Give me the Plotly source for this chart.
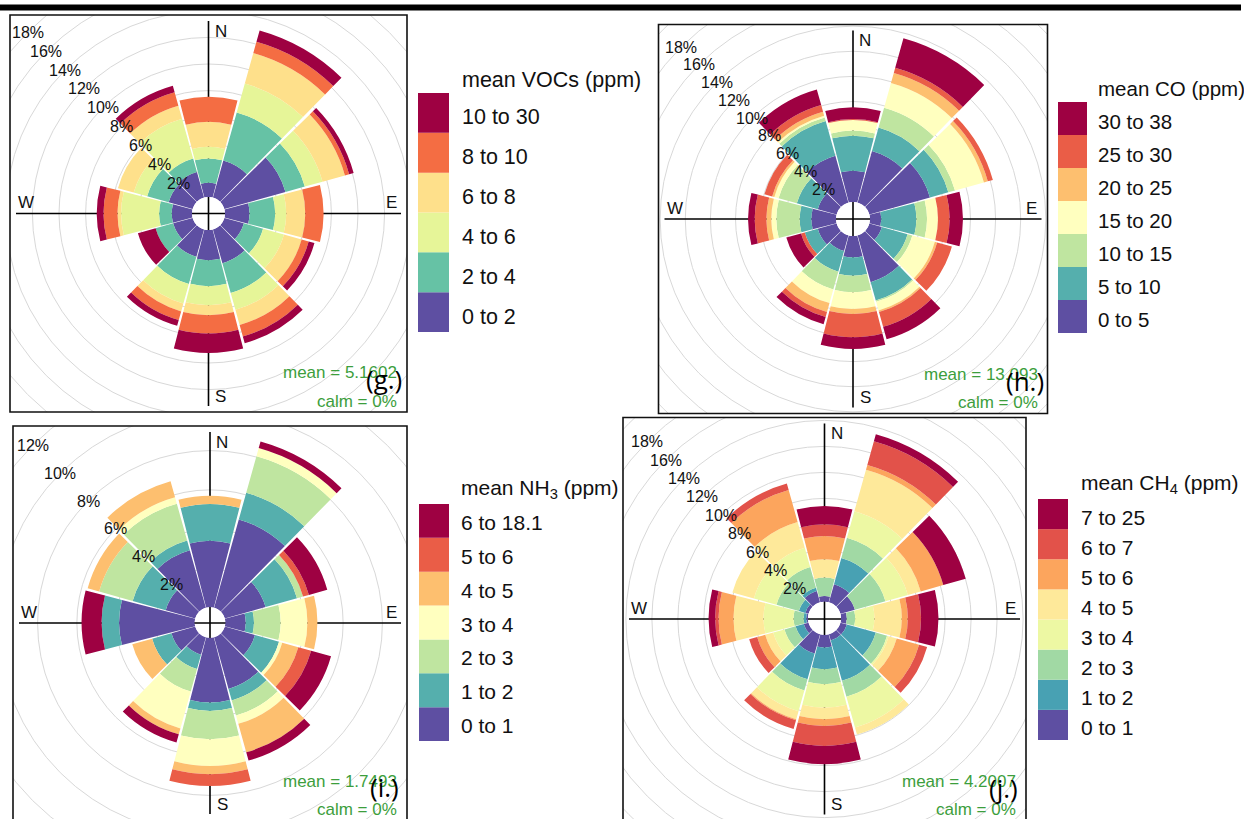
import numpy as np
import plotly.graph_objects as go

W, H = 1244, 819
FONT = "Liberation Sans, Arial, sans-serif"

# ---------------- data (percentage frequency per direction sector) ----------------
DIRS = [0, 30, 60, 90, 120, 150, 180, 210, 240, 270, 300, 330]
RING_STEP = 2  # % between grid rings

# (g.) VOCs
voc_bins = ["0 to 2", "2 to 4", "4 to 6", "6 to 8", "8 to 10", "10 to 30"]
voc_0_2 = [1.07, 2.89, 4.77, 1.84, 1.52, 2.64, 2.27, 2.14, 1.52, 1.52, 1.87, 1.99]
voc_2_4 = [1.82, 3.76, 1.51, 1.93, 1.50, 2.33, 1.95, 2.13, 1.37, 0.95, 1.68, 1.06]
voc_4_6 = [0.88, 2.26, 1.38, 0.83, 1.63, 1.31, 1.43, 1.51, 0.00, 2.86, 1.05, 3.10]
voc_6_8 = [1.88, 2.38, 1.75, 1.43, 1.38, 1.18, 0.75, 0.62, 0.00, 0.27, 1.23, 1.03]
voc_8_10 = [1.88, 0.88, 0.33, 1.38, 0.55, 0.90, 1.38, 0.68, 0.00, 1.05, 0.00, 1.05]
voc_10_30 = [0.00, 0.88, 0.35, 0.00, 0.45, 0.52, 1.46, 0.45, 1.38, 0.51, 0.00, 0.50]

# (h.) CO
co_bins = ["0 to 5", "5 to 10", "10 to 15", "15 to 20", "20 to 25", "25 to 30", "30 to 38"]
co_0_5 = [2.49, 4.27, 5.01, 0.90, 1.03, 3.87, 1.70, 1.30, 1.56, 1.96, 1.56, 3.87]
co_5_10 = [2.79, 1.94, 1.52, 2.79, 2.13, 1.51, 1.46, 1.70, 1.07, 0.93, 1.73, 2.87]
co_10_15 = [0.40, 1.64, 0.55, 0.85, 0.39, 0.11, 1.32, 1.48, 0.00, 1.86, 1.51, 0.29]
co_15_20 = [0.85, 2.04, 2.39, 0.87, 1.86, 0.72, 1.33, 1.12, 0.00, 0.40, 0.35, 0.16]
co_20_25 = [0.00, 0.83, 0.32, 0.00, 0.19, 0.13, 0.40, 0.74, 0.00, 0.39, 0.18, 0.32]
co_25_30 = [0.07, 0.42, 0.42, 0.93, 1.22, 1.22, 1.85, 0.40, 0.31, 0.93, 0.64, 0.55]
co_30_38 = [0.93, 2.44, 0.00, 1.06, 0.00, 1.03, 0.93, 0.61, 1.22, 0.53, 0.00, 1.30]

# (i.) NH3
nh3_bins = ["0 to 1", "1 to 2", "2 to 3", "3 to 4", "4 to 5", "5 to 6", "6 to 18.1"]
nh3_0_1 = [3.38, 4.67, 2.16, 1.04, 1.60, 2.73, 3.29, 0.92, 1.26, 3.85, 1.56, 3.04]
nh3_1_2 = [1.87, 1.41, 1.66, 0.42, 1.27, 0.61, 0.43, 0.76, 1.02, 0.89, 1.75, 0.51]
nh3_2_3 = [0.00, 1.93, 0.32, 1.36, 0.00, 0.80, 1.44, 1.19, 0.00, 0.00, 1.77, 1.95]
nh3_3_4 = [0.00, 0.43, 0.00, 1.36, 0.17, 0.44, 1.36, 1.95, 0.00, 0.00, 0.00, 0.34]
nh3_4_5 = [0.42, 0.00, 0.00, 0.51, 0.85, 1.50, 0.42, 0.31, 1.05, 0.00, 0.61, 0.85]
nh3_5_6 = [0.00, 0.00, 0.31, 0.00, 0.68, 0.00, 0.60, 0.00, 0.00, 0.00, 0.00, 0.00]
nh3_6_18 = [0.00, 0.35, 0.97, 0.00, 1.05, 0.44, 0.00, 0.44, 0.00, 1.02, 0.00, 0.00]

# (j.) CH4
ch4_bins = ["0 to 1", "1 to 2", "2 to 3", "3 to 4", "4 to 5", "5 to 6", "6 to 7", "7 to 25"]
ch4_0_1 = [0.44, 1.44, 1.15, 0.44, 0.51, 0.51, 0.97, 1.54, 0.38, 0.13, 0.26, 0.90]
ch4_1_2 = [0.00, 2.10, 0.00, 0.00, 2.31, 3.21, 1.67, 2.05, 0.65, 0.20, 0.51, 0.25]
ch4_2_3 = [1.41, 1.61, 2.44, 0.64, 0.90, 1.28, 1.15, 0.90, 0.89, 0.77, 1.79, 1.67]
ch4_3_4 = [0.00, 2.11, 1.79, 1.48, 0.13, 2.44, 1.80, 1.66, 0.90, 2.31, 1.80, 1.54]
ch4_4_5 = [1.41, 3.33, 1.03, 2.11, 0.64, 0.56, 0.90, 0.64, 0.64, 2.31, 1.72, 2.05]
ch4_5_6 = [1.79, 0.38, 1.80, 0.46, 1.79, 0.00, 0.51, 0.08, 0.64, 1.15, 0.00, 2.56]
ch4_6_7 = [0.90, 1.88, 0.00, 1.02, 0.64, 0.00, 1.54, 0.69, 0.64, 0.26, 0.00, 0.52]
ch4_7_25 = [1.41, 0.56, 1.79, 1.34, 0.00, 0.00, 1.41, 0.00, 0.00, 0.51, 0.00, 0.00]

# ---------------- colours (Spectral ramp) ----------------
COL6 = ["#5E4FA2", "#66C2A5", "#E6F598", "#FEE08B", "#F46D43", "#9E0142"]
COL7 = ["#5E4FA2", "#55AFAD", "#BFE5A0", "#FFFFBF", "#FDBF6F", "#EA5D47", "#9E0142"]
COL8 = ["#5E4FA2", "#48A1B3", "#A1D9A4", "#EDF8A3", "#FEE99A", "#FCA55D", "#E2524A", "#9E0142"]

panels = [
    dict(bins=voc_bins, series=[voc_0_2, voc_2_4, voc_4_6, voc_6_8, voc_8_10, voc_10_30],
         colors=COL6, title="mean VOCs (ppm)", mean="mean = 5.1602", tag="(g.)",
         cx=208.5, cy=213.5, hw=198.5, off=16.5, step=13.3,
         leg=(418, 449, 93, 332, 460, 80), lfs=21.5, ldy=4.5),
    dict(bins=co_bins, series=[co_0_5, co_5_10, co_10_15, co_15_20, co_20_25, co_25_30, co_30_38],
         colors=COL7, title="mean CO (ppm)", mean="mean = 13.093", tag="(h.)",
         cx=853.0, cy=219.0, hw=194.5, off=17.0, step=12.56,
         leg=(1058, 1087, 102, 333, 1096, 88), lfs=20.5, ldy=3),
    dict(bins=nh3_bins, series=[nh3_0_1, nh3_1_2, nh3_2_3, nh3_3_4, nh3_4_5, nh3_5_6, nh3_6_18],
         colors=COL7, title="mean NH<sub>3</sub> (ppm)", mean="mean = 1.7493", tag="(i.)",
         cx=210.0, cy=623.0, hw=197.0, off=15.3, step=19.64,
         leg=(419, 449, 504, 741, 459, 489), lfs=21, ldy=1.5),
    dict(bins=ch4_bins, series=[ch4_0_1, ch4_1_2, ch4_2_3, ch4_3_4, ch4_4_5, ch4_5_6, ch4_6_7, ch4_7_25],
         colors=COL8, title="mean CH<sub>4</sub> (ppm)", mean="mean = 4.2007", tag="(j.)",
         cx=824.5, cy=619.0, hw=201.5, off=16.6, step=13.0,
         leg=(1038, 1068, 499, 740, 1079, 484), lfs=21, ldy=3),
]


def px(x):
    return x / W


def py(y):
    return 1 - y / H


fig = go.Figure()
shapes, annotations = [], []
layout = {}

for k, p in enumerate(panels):
    i = k + 1
    sfx = "" if i == 1 else str(i)
    cx, cy, hw, off, step = p["cx"], p["cy"], p["hw"], p["off"], p["step"]

    # pixel box of the panel (clamped to the canvas)
    top, bot = cy - hw, min(cy + hw, H)
    xd = [px(cx - hw), px(cx + hw)]
    yd = [max(0.0, py(bot)), min(1.0, py(top))]
    R = min(2 * hw, bot - top) / 2.0
    hole = off / R
    rmax = (R - off) / step

    # cartesian helper axes in pixel units centred on the rose
    layout["xaxis" + sfx] = dict(domain=xd, range=[-hw, hw], visible=False, fixedrange=True,
                                 anchor="y" + sfx)
    layout["yaxis" + sfx] = dict(domain=yd, range=[-(bot - cy), cy - top], visible=False,
                                 fixedrange=True, anchor="x" + sfx)
    xr, yr = "x" + sfx, "y" + sfx

    # polar subplot for the stacked sectors
    layout["polar" + sfx] = dict(
        domain=dict(x=xd, y=yd), hole=hole, bgcolor="rgba(0,0,0,0)", barmode="stack",
        radialaxis=dict(range=[0, rmax], visible=False),
        angularaxis=dict(direction="clockwise", rotation=90, showgrid=False, showline=False,
                         showticklabels=False, ticks=""),
    )

    # grid rings (clipped to the frame)
    v = RING_STEP
    while off + v * step < hw * 1.42:
        r = off + v * step
        shapes.append(dict(type="circle", xref=xr, yref=yr, x0=-r, x1=r, y0=-r, y1=r,
                           line=dict(color="#D8D8D8", width=1), layer="below"))
        # ring label along the 315 degree line
        d = r * np.sqrt(0.5)
        if d + 13 < hw:
            annotations.append(dict(x=-d, y=d, xref=xr, yref=yr, text=f"{v}%", showarrow=False,
                                    font=dict(family=FONT, size=16, color="#111111")))
        v += RING_STEP

    # compass cross
    L = hw - 6
    shapes.append(dict(type="line", xref=xr, yref=yr, x0=-L, x1=L, y0=0, y1=0,
                       line=dict(color="#000000", width=1.6), layer="below"))
    shapes.append(dict(type="line", xref=xr, yref=yr, x0=0, x1=0, y0=-L, y1=L,
                       line=dict(color="#000000", width=1.6), layer="below"))
    m = hw - 16
    for txt, ax, ay in [("N", 12, m), ("S", 12, -m), ("E", m, 11), ("W", -m, 11)]:
        annotations.append(dict(x=ax, y=ay, xref=xr, yref=yr, text=txt, showarrow=False,
                                font=dict(family=FONT, size=17, color="#111111")))

    # frame
    shapes.append(dict(type="rect", xref="paper", yref="paper", x0=px(cx - hw), x1=px(cx + hw),
                       y0=py(cy + hw), y1=py(cy - hw), line=dict(color="#111111", width=1.6),
                       fillcolor="rgba(0,0,0,0)", layer="above"))

    # stacked sectors
    for name, vals, col in zip(p["bins"], p["series"], p["colors"]):
        fig.add_trace(go.Barpolar(r=vals, theta=DIRS, width=28.8, name=name,
                                  marker=dict(color=col, line=dict(width=0)),
                                  subplot="polar" + sfx, showlegend=False,
                                  hovertemplate=name + ": %{r}%<extra></extra>"))

    # mean / calm text and panel tag
    rx = cx + hw - 8
    annotations.append(dict(x=px(rx), y=py(cy + hw - 39), xref="paper", yref="paper",
                            xanchor="right", yanchor="middle", text=p["mean"], showarrow=False,
                            font=dict(family=FONT, size=17, color="#3C9E3C")))
    annotations.append(dict(x=px(rx), y=py(cy + hw - 11), xref="paper", yref="paper",
                            xanchor="right", yanchor="middle", text="calm = 0%", showarrow=False,
                            font=dict(family=FONT, size=17, color="#3C9E3C")))
    annotations.append(dict(x=px(cx + hw - 23), y=py(cy + hw - 33), xref="paper", yref="paper",
                            xanchor="center", yanchor="middle", text=p["tag"], showarrow=False,
                            font=dict(family="Open Sans, sans-serif", size=26, color="#000000")))

    # legend key
    lx0, lx1, ly0, ly1, tx, ty = p["leg"]
    n = len(p["bins"])
    hgt = (ly1 - ly0) / n
    for j, (name, col) in enumerate(zip(p["bins"], p["colors"])):
        yb = ly1 - j * hgt
        yt = yb - hgt
        shapes.append(dict(type="rect", xref="paper", yref="paper", x0=px(lx0), x1=px(lx1),
                           y0=py(yb), y1=py(yt), fillcolor=col, line=dict(width=0)))
        annotations.append(dict(x=px(tx), y=py((yb + yt) / 2 + p["ldy"]), xref="paper",
                                yref="paper", xanchor="left", yanchor="middle", text=name,
                                showarrow=False,
                                font=dict(family=FONT, size=p["lfs"], color="#111111")))
    annotations.append(dict(x=px(tx), y=py(ty), xref="paper", yref="paper", xanchor="left",
                            yanchor="middle", text=p["title"], showarrow=False,
                            font=dict(family=FONT, size=p["lfs"], color="#111111")))

# top rule
shapes.append(dict(type="rect", xref="paper", yref="paper", x0=0, x1=px(1241), y0=py(10.5),
                   y1=py(4.5), fillcolor="#000000", line=dict(width=0), layer="above"))

fig.update_layout(
    width=W, height=H, margin=dict(l=0, r=0, t=0, b=0, pad=0),
    paper_bgcolor="white", plot_bgcolor="rgba(0,0,0,0)",
    shapes=shapes, annotations=annotations, showlegend=False,
    **layout,
)

fig.write_html("out.html", config={"displayModeBar": False},
               post_script="document.body.style.margin='0';")
